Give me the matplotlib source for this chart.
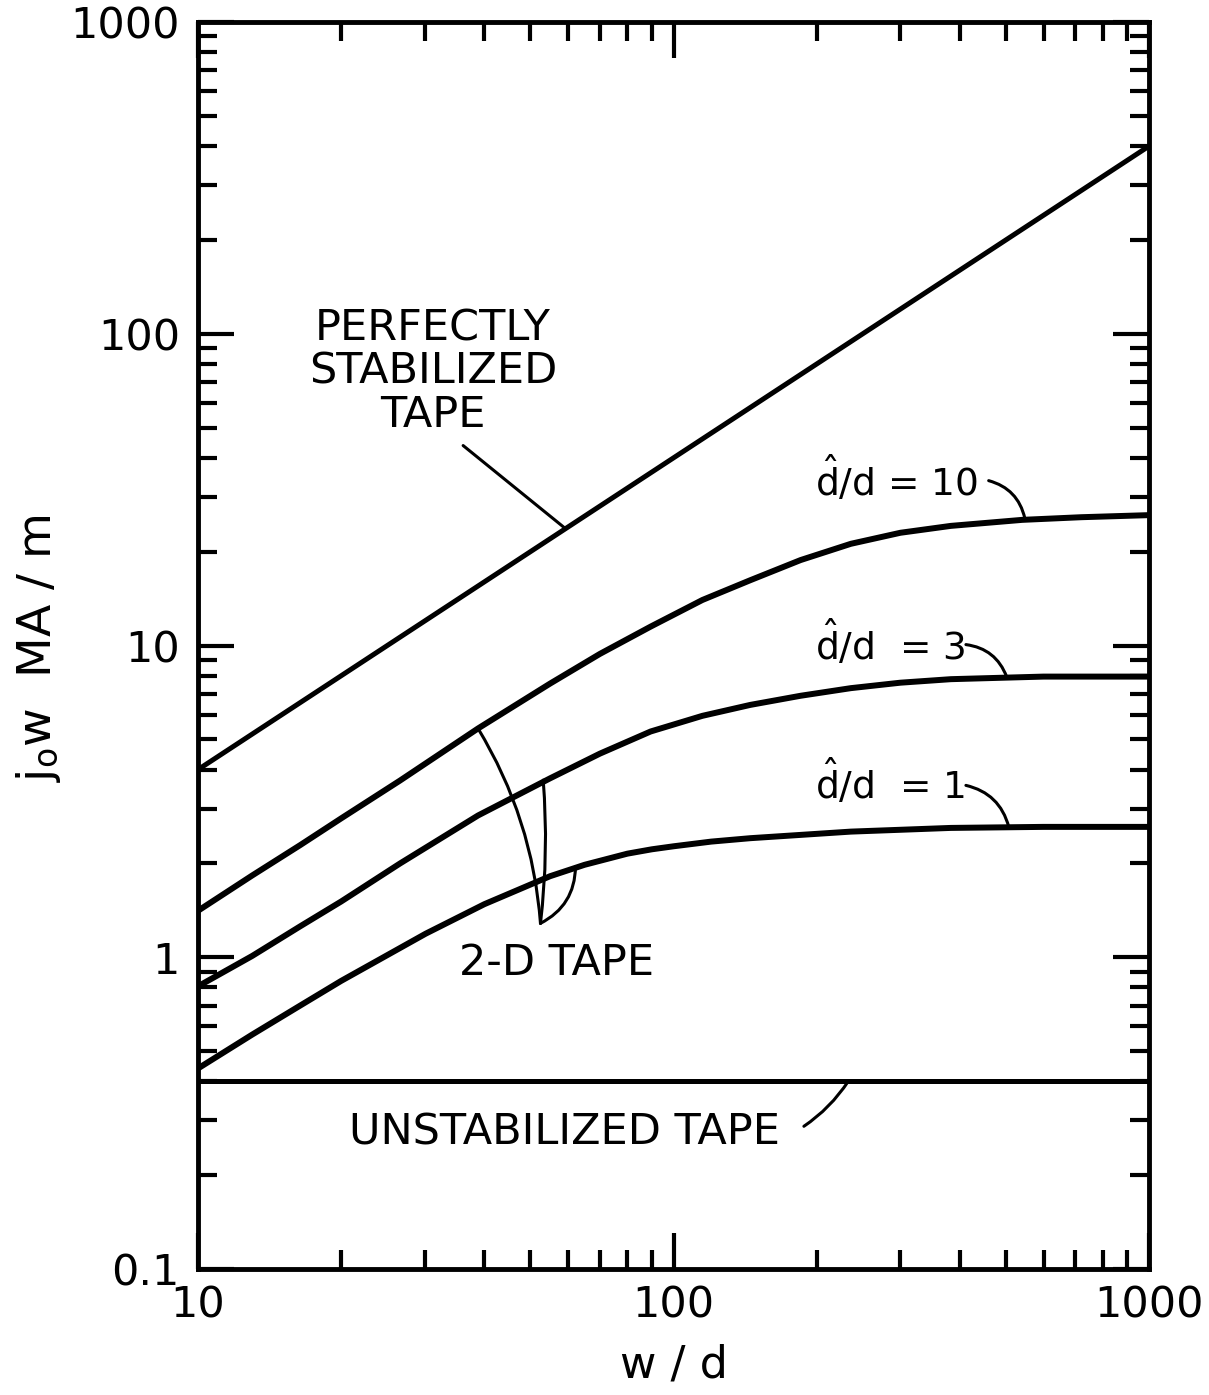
import matplotlib
matplotlib.use("Agg")
from matplotlib import pyplot as plt
from matplotlib.ticker import NullFormatter, LogLocator

plt.rcParams['font.family'] = ['DejaVu Sans']
plt.rcParams['mathtext.fontset'] = 'dejavusans'

# Curves (w/d, j0 w in MA/m)
perfect_x = [10, 1000]
perfect_y = [4.0, 400.0]

unstab_x = [10, 1000]
unstab_y = [0.40, 0.40]

d10_x = [10, 13, 16.4, 20, 26.6, 38.8, 55, 70, 89.5, 115, 145, 185, 236, 300, 383, 541, 720, 1000]
d10_y = [1.41, 1.83, 2.29, 2.79, 3.69, 5.42, 7.55, 9.4, 11.5, 14.0, 16.2, 18.8, 21.2, 23.0, 24.2, 25.3, 25.8, 26.2]

d3_x = [10, 13, 16.4, 20, 26.6, 38.8, 55, 70, 89.5, 115, 145, 185, 236, 300, 383, 600, 1000]
d3_y = [0.807, 1.01, 1.257, 1.51, 2.0, 2.85, 3.75, 4.5, 5.3, 5.95, 6.45, 6.9, 7.3, 7.6, 7.8, 7.95, 7.95]

d1_x = [10, 13, 16.4, 20, 30.1, 40, 55, 65, 80, 90, 100, 120, 145, 236, 383, 600, 1000]
d1_y = [0.44, 0.565, 0.70, 0.84, 1.19, 1.48, 1.82, 1.98, 2.15, 2.22, 2.27, 2.35, 2.41, 2.53, 2.60, 2.62, 2.62]

x_ticks = [10, 100, 1000]
x_tick_labels = ["10", "100", "1000"]
y_ticks = [0.1, 1, 10, 100, 1000]
y_tick_labels = ["0.1", "1", "10", "100", "1000"]

# 2-D tape leader: tip and the points it touches on each curve
tip_2d = (52.5, 1.285)
touch_2d = [((38.8, 5.42), 0.12), ((53.2, 3.7), 0.05), ((62.2, 1.95), 0.3)]

fig = plt.figure(figsize=(12.09, 13.95), dpi=100)
ax = fig.add_axes([0.1638, 0.0903, 0.7866, 0.8939])

ax.plot(perfect_x, perfect_y, color="black", lw=3.6, solid_capstyle="butt")
ax.plot(unstab_x, unstab_y, color="black", lw=3.6, solid_capstyle="butt")
for xs, ys in [(d10_x, d10_y), (d3_x, d3_y), (d1_x, d1_y)]:
    ax.plot(xs, ys, color="black", lw=4.3, solid_joinstyle="round", solid_capstyle="butt")

ax.set_xscale("log")
ax.set_yscale("log")
ax.set_xlim(10, 1000)
ax.set_ylim(0.1, 1000)

ax.set_xticks(x_ticks, labels=x_tick_labels)
ax.set_yticks(y_ticks, labels=y_tick_labels)
ax.xaxis.set_minor_locator(LogLocator(base=10, subs=range(2, 10)))
ax.yaxis.set_minor_locator(LogLocator(base=10, subs=range(2, 10)))
ax.xaxis.set_minor_formatter(NullFormatter())
ax.yaxis.set_minor_formatter(NullFormatter())

ax.tick_params(which="both", direction="in", top=True, right=True, width=3, labelsize=31)
ax.tick_params(which="major", length=26)
ax.tick_params(which="minor", length=14)
ax.tick_params(axis="y", which="major", pad=13)
ax.tick_params(axis="x", which="major", pad=11)
for sp in ax.spines.values():
    sp.set_linewidth(3.5)

# Axis labels
ax.text(-0.168, 0.498, r"$\mathrm{j_o w}$  MA / m", transform=ax.transAxes,
        rotation=90, ha="center", va="center", fontsize=34)
ax.text(0.5, -0.077, "w / d", transform=ax.transAxes, ha="center", va="center", fontsize=32)

# Curve labels
ax.text(31.2, 75.5, "PERFECTLY\nSTABILIZED\nTAPE", ha="center", va="center",
        multialignment="center", fontsize=31, linespacing=1.05)
ax.annotate("", xy=(59.3, 23.7), xytext=(36.1, 43.8),
            arrowprops=dict(arrowstyle="-", lw=2.2, color="black", shrinkA=0, shrinkB=0))

ax.text(198, 30.2, r"$\hat{\mathrm{d}}$/d = 10", ha="left", va="baseline", fontsize=27)
ax.annotate("", xy=(548, 25.6), xytext=(460, 33.8),
            arrowprops=dict(arrowstyle="-", lw=2.2, color="black", shrinkA=0, shrinkB=0,
                            connectionstyle="arc3,rad=-0.3"))

ax.text(198, 9.02, r"$\hat{\mathrm{d}}$/d  = 3", ha="left", va="baseline", fontsize=27)
ax.annotate("", xy=(502, 7.93), xytext=(412, 10.07),
            arrowprops=dict(arrowstyle="-", lw=2.2, color="black", shrinkA=0, shrinkB=0,
                            connectionstyle="arc3,rad=-0.3"))

ax.text(198, 3.21, r"$\hat{\mathrm{d}}$/d  = 1", ha="left", va="baseline", fontsize=27)
ax.annotate("", xy=(507, 2.62), xytext=(412, 3.56),
            arrowprops=dict(arrowstyle="-", lw=2.2, color="black", shrinkA=0, shrinkB=0,
                            connectionstyle="arc3,rad=-0.3"))

ax.text(56.8, 0.957, "2-D TAPE", ha="center", va="center", fontsize=31)
for pt, rad in touch_2d:
    ax.annotate("", xy=pt, xytext=tip_2d,
                arrowprops=dict(arrowstyle="-", lw=2.2, color="black", shrinkA=0, shrinkB=0,
                                connectionstyle=f"arc3,rad={rad}"))

ax.text(58.96, 0.275, "UNSTABILIZED TAPE", ha="center", va="center", fontsize=31)
ax.annotate("", xy=(233, 0.40), xytext=(188, 0.287),
            arrowprops=dict(arrowstyle="-", lw=2.2, color="black", shrinkA=0, shrinkB=0,
                            connectionstyle="arc3,rad=0.1"))

fig.savefig("out.png", dpi=100)
